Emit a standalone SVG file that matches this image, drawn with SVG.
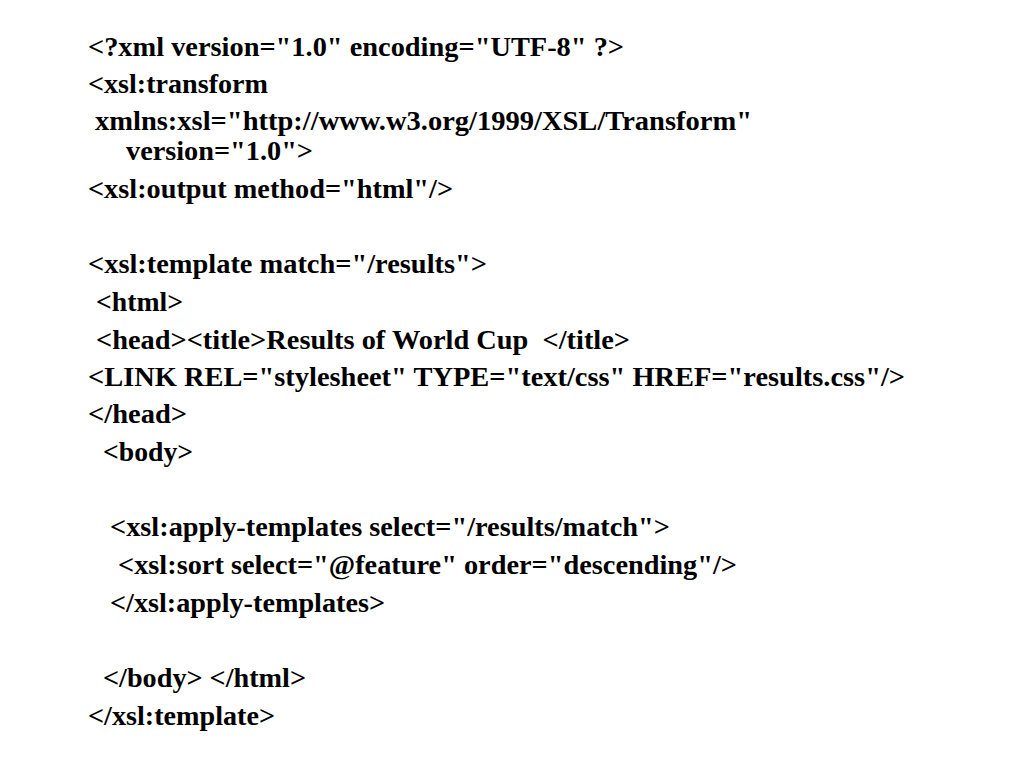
<svg xmlns="http://www.w3.org/2000/svg" width="1024" height="768" viewBox="0 0 1024 768">
<style>
text{font-family:"Liberation Serif","Times New Roman",serif;font-weight:bold;font-size:27px;fill:#000;white-space:pre}
</style>
<rect width="1024" height="768" fill="#fff"/>
<g id="code">
<text x="88" y="56" textLength="536" lengthAdjust="spacingAndGlyphs">&lt;?xml version="1.0" encoding="UTF-8" ?&gt;</text>
<text x="88" y="93" textLength="180" lengthAdjust="spacingAndGlyphs">&lt;xsl:transform</text>
<text x="95" y="130" textLength="657" lengthAdjust="spacingAndGlyphs">xmlns:xsl="http://www.w3.org/1999/XSL/Transform"</text>
<text x="126" y="160" textLength="187" lengthAdjust="spacingAndGlyphs">version="1.0"&gt;</text>
<text x="88" y="198" textLength="365" lengthAdjust="spacingAndGlyphs">&lt;xsl:output method="html"/&gt;</text>
<text x="88" y="273" textLength="399" lengthAdjust="spacingAndGlyphs">&lt;xsl:template match="/results"&gt;</text>
<text x="96" y="311" textLength="87" lengthAdjust="spacingAndGlyphs">&lt;html&gt;</text>
<text x="96" y="349" textLength="534" lengthAdjust="spacingAndGlyphs">&lt;head&gt;&lt;title&gt;Results of World Cup  &lt;/title&gt;</text>
<text x="88" y="386" textLength="817" lengthAdjust="spacingAndGlyphs">&lt;LINK REL="stylesheet" TYPE="text/css" HREF="results.css"/&gt;</text>
<text x="88" y="423" textLength="99" lengthAdjust="spacingAndGlyphs">&lt;/head&gt;</text>
<text x="103" y="461" textLength="90" lengthAdjust="spacingAndGlyphs">&lt;body&gt;</text>
<text x="110" y="536" textLength="560" lengthAdjust="spacingAndGlyphs">&lt;xsl:apply-templates select="/results/match"&gt;</text>
<text x="118" y="574" textLength="619" lengthAdjust="spacingAndGlyphs">&lt;xsl:sort select="@feature" order="descending"/&gt;</text>
<text x="110" y="612" textLength="275" lengthAdjust="spacingAndGlyphs">&lt;/xsl:apply-templates&gt;</text>
<text x="103" y="687" textLength="203" lengthAdjust="spacingAndGlyphs">&lt;/body&gt; &lt;/html&gt;</text>
<text x="88" y="725" textLength="187" lengthAdjust="spacingAndGlyphs">&lt;/xsl:template&gt;</text>
</g>
</svg>
